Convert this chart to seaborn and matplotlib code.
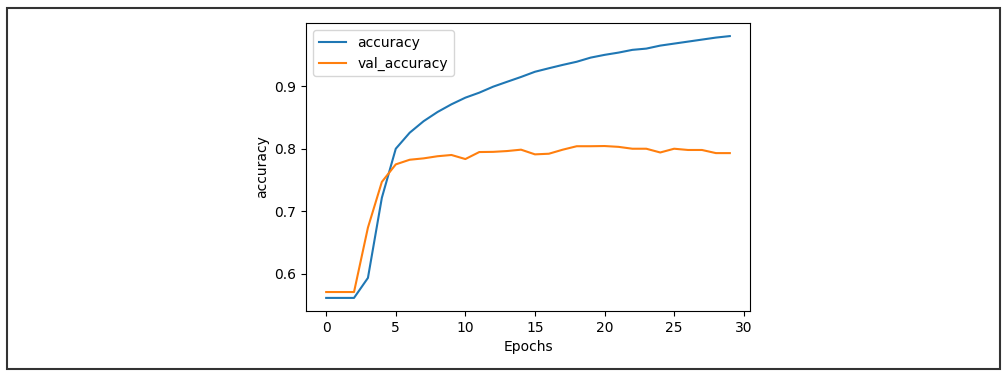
import pandas as pd
import matplotlib.pyplot as plt
import seaborn as sns
from matplotlib.patches import Rectangle

epochs = list(range(30))
accuracy = [0.5616, 0.5616, 0.5616, 0.5936, 0.7216, 0.800, 0.8256, 0.844, 0.8587, 0.871,
            0.8816, 0.8896, 0.8992, 0.907, 0.9147, 0.923, 0.9286, 0.934, 0.939, 0.9456,
            0.9500, 0.9536, 0.958, 0.960, 0.9648, 0.968, 0.9712, 0.9744, 0.9776, 0.980]
val_accuracy = [0.571, 0.571, 0.571, 0.674, 0.747, 0.775, 0.7824, 0.7846, 0.788, 0.790,
                0.7835, 0.7947, 0.795, 0.7963, 0.7985, 0.791, 0.792, 0.7985, 0.804, 0.804,
                0.8043, 0.803, 0.800, 0.800, 0.794, 0.800, 0.798, 0.798, 0.793, 0.793]

df = pd.DataFrame({"epoch": epochs, "accuracy": accuracy, "val_accuracy": val_accuracy})
long = df.melt(id_vars="epoch", var_name="metric", value_name="value")

fig = plt.figure(figsize=(10.06, 3.76), dpi=100)
ax = fig.add_axes([306 / 1006, 1 - 311 / 376, 444 / 1006, 288 / 376])

sns.lineplot(data=long, x="epoch", y="value", hue="metric", ax=ax,
             palette=["#1f77b4", "#ff7f0e"], linewidth=1.5)

ax.set_xlabel("Epochs")
ax.set_ylabel("accuracy")
ax.set_xticks([0, 5, 10, 15, 20, 25, 30])
ax.set_yticks([0.6, 0.7, 0.8, 0.9])
ax.legend(title=None, loc="upper left")

# border around the whole picture
fig.patches.append(Rectangle((7 / 1006, 1 - 369 / 376), 993 / 1006, 361 / 376,
                             transform=fig.transFigure, fill=False,
                             edgecolor="#333333", linewidth=1.5))

fig.savefig("out.png", dpi=100)
